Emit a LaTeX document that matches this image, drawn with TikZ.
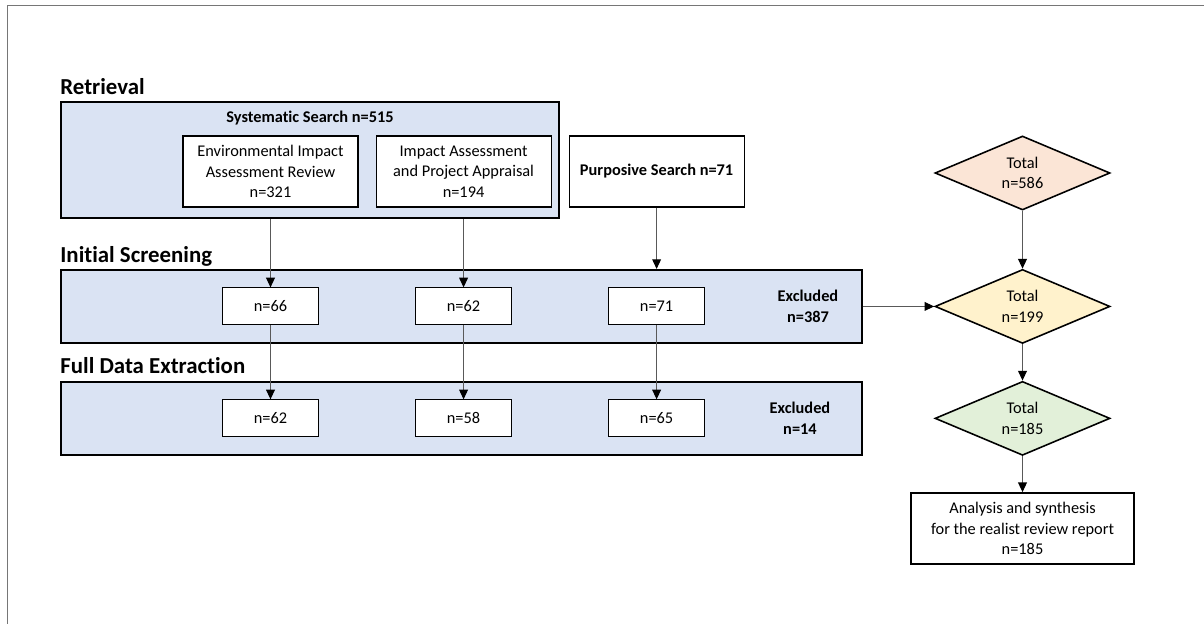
\documentclass[tikz,border=0pt]{standalone}
\usepackage{fontspec}
\setmainfont{Carlito}[Renderer=OpenType, RawFeature={-liga;-clig;-calt;-dlig;-rlig}]
\usepackage{xcolor}
\usepackage{tikz}
\usetikzlibrary{shapes.geometric, arrows.meta, positioning}
\definecolor{stagecolor}{HTML}{DAE3F3}
\definecolor{allcolor}{HTML}{FBE5D6}
\definecolor{screencolor}{HTML}{FFF2CC}
\definecolor{keptcolor}{HTML}{E2F0D9}
\definecolor{linecolor}{HTML}{595959}
\definecolor{framecolor}{HTML}{767676}

\begin{document}
\begin{tikzpicture}[
  node distance=0.34cm and 0.34cm,
  every node/.style={font=\fontsize{9.3}{11.6}\selectfont},
  stage/.style={rectangle, draw, line width=1.1pt, fill=stagecolor,
                minimum width=16.02cm, minimum height=1.46cm},
  box/.style={rectangle, draw, line width=0.6pt, fill=white, align=center,
              minimum width=3.5cm, minimum height=1.42cm, inner sep=2pt},
  nbox/.style={box, minimum width=1.92cm, minimum height=0.74cm},
  dia/.style={diamond, draw, line width=0.9pt, align=center, shape aspect=2.4,
              minimum width=3.5cm, minimum height=1.48cm, inner sep=1pt},
  heading/.style={font=\fontsize{13}{15.6}\selectfont\bfseries, inner sep=0pt},
  excl/.style={font=\fontsize{9.3}{11.6}\selectfont\bfseries, align=center},
  arrow/.style={-{Triangle[length=5.5pt, width=5pt, color=black]},
                line width=0.6pt, draw=linecolor},
]
\useasboundingbox (0,0) rectangle (24.08,-12.48);
\draw[framecolor, line width=1.1pt] (0.15,-12.48) |- (24.08,-0.11);

% stages
\node[stage, minimum width=9.96cm, minimum height=2.32cm] (retr) at (6.20,-3.20) {};
\node[stage, below=1.0cm of retr.south west, anchor=north west] (screen) {};
\node[stage, below=0.74cm of screen.south west, anchor=north west] (fde) {};

\node[heading, above=0.14cm of retr.north west, anchor=base west]   (hret) {Retrieval};
\node[heading, above=0.13cm of screen.north west, anchor=base west] (hscr) {Initial Screening};
\node[heading, above=0.14cm of fde.north west, anchor=base west]    (hfde) {Full Data Extraction};

% sources
\node[font=\fontsize{9.3}{11.6}\selectfont\bfseries] (sys) at ([yshift=-0.34cm]retr.north) {Systematic Search n=515};
\node[box] (env) at (5.41,-3.43) {Environmental Impact\\Assessment Review\\n=321};
\node[box, right=0.34cm of env]  (iapa) {Impact Assessment\\and Project Appraisal\\n=194};
\node[box, right=0.34cm of iapa, font=\fontsize{9.3}{11.6}\selectfont\bfseries] (purp) {Purposive Search n=71};

% counts
\node[nbox] (s66) at (env |- screen)  {n=66};
\node[nbox] (s62) at (iapa |- screen) {n=62};
\node[nbox] (s71) at (purp |- screen) {n=71};
\node[nbox] (f62) at (env |- fde)  {n=62};
\node[nbox] (f58) at (iapa |- fde) {n=58};
\node[nbox] (f65) at (purp |- fde) {n=65};

\node[excl] (x387) at ([xshift=-1.1cm]screen.east) {Excluded\\n=387};
\node[excl] (x14)  at ([xshift=-1.26cm]fde.east)   {Excluded\\n=14};

% totals
\node[dia, fill=allcolor]    (t586) at (20.45,-3.46)    {Total\\n=586};
\node[dia, fill=screencolor] (t199) at (t586 |- screen) {Total\\n=199};
\node[dia, fill=keptcolor]   (t185) at (t586 |- fde)    {Total\\n=185};
\node[box, line width=1.1pt, minimum width=4.46cm, below=0.72cm of t185] (fin)
     {Analysis and synthesis\\for the realist review report\\n=185};

\coordinate (pin) at (purp |- screen.north);
\draw[arrow] (env |- retr.south) -- (s66);
\draw[arrow] (iapa |- retr.south) -- (s62);
\draw[arrow] (purp) -- (pin);
\draw[arrow] (s66) -- (f62);
\draw[arrow] (s62) -- (f58);
\draw[arrow] (s71) -- (f65);
\draw[arrow] (screen.east) -- (t199.west);
\draw[arrow] (t586) -- (t199);
\draw[arrow] (t199) -- (t185);
\draw[arrow] (t185) -- (fin);
\end{tikzpicture}
\end{document}
